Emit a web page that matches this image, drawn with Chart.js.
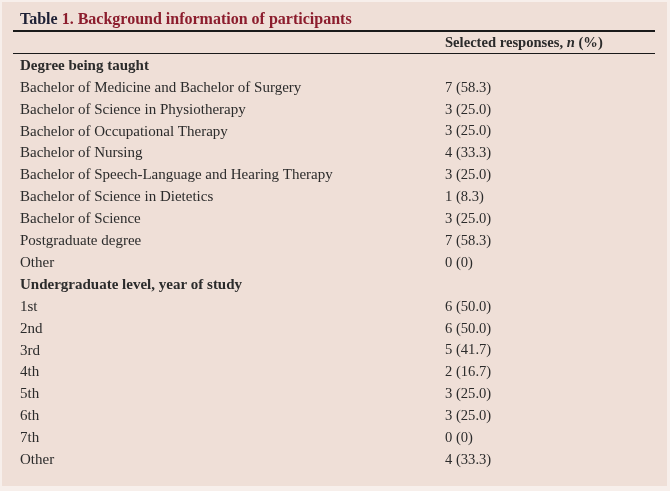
<!DOCTYPE html>
<html>
<head>
<meta charset="utf-8">
<script src="https://cdn.jsdelivr.net/npm/chart.js@4.4.4/dist/chart.umd.min.js"></script>
<style>
  html, body { margin: 0; padding: 0; background: #f7efeb; }
  #wrap { position: absolute; left: 0; top: 0; width: 670px; height: 491px; }
</style>
</head>
<body>
<div id="wrap"><canvas id="table1"></canvas></div>
<script>
// Table 1 values
const degreeHeader = 'Degree being taught';
const degreeLabels = [
    'Bachelor of Medicine and Bachelor of Surgery',
    'Bachelor of Science in Physiotherapy',
    'Bachelor of Occupational Therapy',
    'Bachelor of Nursing',
    'Bachelor of Speech-Language and Hearing Therapy',
    'Bachelor of Science in Dietetics',
    'Bachelor of Science',
    'Postgraduate degree',
    'Other'
];
const degreeCounts = [7, 3, 3, 4, 3, 1, 3, 7, 0];
const degreePercents = ['58.3', '25.0', '25.0', '33.3', '25.0', '8.3', '25.0', '58.3', '0'];

const yearHeader = 'Undergraduate level, year of study';
const yearLabels = ['1st', '2nd', '3rd', '4th', '5th', '6th', '7th', 'Other'];
const yearCounts = [6, 6, 5, 2, 3, 3, 0, 4];
const yearPercents = ['50.0', '50.0', '41.7', '16.7', '25.0', '25.0', '0', '33.3'];

const rowLabels = [degreeHeader, ...degreeLabels, yearHeader, ...yearLabels];
const rowCounts = [null, ...degreeCounts, null, ...yearCounts];
const rowPercents = [null, ...degreePercents, null, ...yearPercents];
const headerRows = [degreeHeader, yearHeader];

const SERIF = '"Liberation Serif", "DejaVu Serif", serif';
const TEXT = '#2b2b2b';
const RED = '#8c1d2d';
const VALUE_X = 445;

const tableFrame = {
    id: 'tableFrame',
    beforeDraw(chart) {
        const ctx = chart.ctx;
        ctx.save();
        ctx.fillStyle = '#efdfd7';
        ctx.fillRect(2, 2, 665, 484);
        ctx.restore();
    },
    afterDraw(chart) {
        const ctx = chart.ctx;
        const y = chart.scales.y;
        ctx.save();

        // caption
        ctx.textBaseline = 'alphabetic';
        ctx.font = 'bold 16px ' + SERIF;
        ctx.fillStyle = '#1e2035';
        ctx.fillText('Table ', 20, 24);
        let x = 20 + ctx.measureText('Table ').width;
        ctx.fillStyle = RED;
        ctx.fillText('1. Background information of participants', x, 24);

        // rules
        ctx.fillStyle = '#1a1a1a';
        ctx.fillRect(13, 30, 642, 2);
        ctx.fillRect(13, 53, 642, 1);

        // column header
        ctx.fillStyle = TEXT;
        ctx.textBaseline = 'middle';
        ctx.font = 'bold 14.6px ' + SERIF;
        ctx.fillText('Selected responses, ', VALUE_X, 43);
        x = VALUE_X + ctx.measureText('Selected responses, ').width;
        ctx.font = 'italic bold 14.6px ' + SERIF;
        ctx.fillText('n', x, 43);
        x += ctx.measureText('n').width;
        ctx.font = 'bold 14.6px ' + SERIF;
        ctx.fillText(' (%)', x, 43);

        // value column
        ctx.font = '14.6px ' + SERIF;
        rowCounts.forEach((n, i) => {
            if (n === null) return;
            ctx.fillText(n + ' (' + rowPercents[i] + ')', VALUE_X, y.getPixelForValue(i));
        });
        ctx.restore();
    }
};

new Chart(document.getElementById('table1'), {
    type: 'bar',
    data: {
        labels: rowLabels,
        datasets: [{
            label: 'Selected responses',
            data: rowCounts,
            backgroundColor: 'rgba(0,0,0,0)',
            borderWidth: 0
        }]
    },
    options: {
        indexAxis: 'y',
        responsive: true,
        maintainAspectRatio: false,
        animation: false,
        events: [],
        layout: { padding: { left: 20, top: 55, bottom: 20, right: 15 } },
        plugins: {
            legend: { display: false },
            title: { display: false },
            tooltip: { enabled: false }
        },
        scales: {
            x: { display: false, min: 0, max: 12 },
            y: {
                grid: { display: false },
                border: { display: false },
                ticks: {
                    autoSkip: false,
                    crossAlign: 'far',
                    padding: 0,
                    color: TEXT,
                    font: ctx => ({
                        family: SERIF,
                        size: 15,
                        weight: headerRows.includes(rowLabels[ctx.index]) ? 'bold' : 'normal'
                    })
                }
            }
        }
    },
    plugins: [tableFrame]
});
</script>
</body>
</html>
